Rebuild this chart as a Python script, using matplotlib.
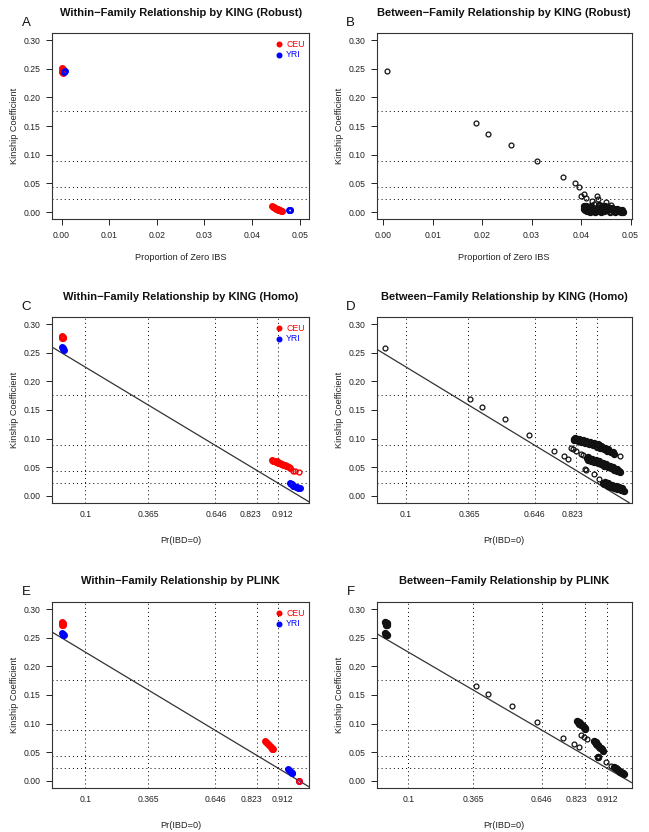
import matplotlib
matplotlib.use("Agg")
import matplotlib.pyplot as plt
import numpy as np

plt.rcParams['font.family'] = ['Liberation Sans', 'DejaVu Sans']

W, H = 649, 832

# kinship cut-offs between relationship degrees
kin_cuts = [0.177, 0.0884, 0.0442, 0.0221]
kin_ticks = [0.00, 0.05, 0.10, 0.15, 0.20, 0.25, 0.30]
ibs0_ticks = [0.00, 0.01, 0.02, 0.03, 0.04, 0.05]
ibd0_cuts = [0.1, 0.365, 0.646, 0.823, 0.912]
ibd0_labels = ['0.1', '0.365', '0.646', '0.823', '0.912']

# --- A: within-family, KING robust (x = proportion of zero IBS) ---
a_ceu = np.array([
    (0.0001, 0.251), (0.0003, 0.248), (0.0002, 0.245), (0.0004, 0.250),
    (0.0005, 0.246), (0.0003, 0.243), (0.0001, 0.247),
    (0.0441, 0.011), (0.0443, 0.009), (0.0446, 0.009), (0.0447, 0.007),
    (0.0450, 0.006), (0.0452, 0.005), (0.0454, 0.004), (0.0456, 0.003),
    (0.0458, 0.003), (0.0460, 0.002), (0.0462, 0.002), (0.0449, 0.008),
    (0.0455, 0.005)])
a_yri = np.array([
    (0.0007, 0.246), (0.0006, 0.244), (0.0479, 0.003), (0.0480, 0.004),
    (0.0478, 0.003)])

# --- B: between-family, KING robust ---
b_pairs = np.array([
    (0.0007, 0.2457), (0.0187, 0.1558), (0.0211, 0.1366), (0.0259, 0.1167),
    (0.0311, 0.0899), (0.0364, 0.0607), (0.0387, 0.0514), (0.0395, 0.0438),
    (0.0400, 0.0280), (0.0407, 0.0310), (0.0411, 0.0245), (0.0433, 0.0280),
    (0.0435, 0.0233), (0.0423, 0.0190), (0.0427, 0.0150), (0.0450, 0.0180),
    (0.0461, 0.0117)])
b_dense = np.array([
    (0.0406, 0.010), (0.0406, 0.006), (0.0408, 0.003), (0.0410, 0.011),
    (0.0411, 0.007), (0.0412, 0.002), (0.0415, 0.009), (0.0416, 0.005),
    (0.0418, 0.001), (0.0420, 0.010), (0.0421, 0.006), (0.0423, 0.002),
    (0.0425, 0.008), (0.0427, 0.004), (0.0429, 0.001), (0.0431, 0.006),
    (0.0433, 0.002),
    (0.0436, 0.012), (0.0437, 0.008), (0.0438, 0.004), (0.0440, 0.001),
    (0.0442, 0.010), (0.0444, 0.006), (0.0446, 0.002), (0.0448, 0.011),
    (0.0450, 0.007), (0.0452, 0.003), (0.0455, 0.009), (0.0457, 0.005),
    (0.0459, 0.001), (0.0462, 0.007), (0.0464, 0.003), (0.0467, 0.005),
    (0.0469, 0.001), (0.0472, 0.005), (0.0474, 0.002), (0.0477, 0.004),
    (0.0480, 0.001), (0.0483, 0.003), (0.0485, 0.001)])

# --- C: within-family, KING homo (x = Pr(IBD=0)) ---
c_ceu = np.array([
    (0.000, 0.279), (0.004, 0.277), (0.007, 0.275), (0.002, 0.276),
    (0.008, 0.278),
    (0.886, 0.062), (0.890, 0.060), (0.896, 0.061), (0.901, 0.059),
    (0.907, 0.060), (0.912, 0.058), (0.918, 0.058), (0.923, 0.056),
    (0.929, 0.056), (0.934, 0.054), (0.940, 0.054), (0.945, 0.052),
    (0.951, 0.052), (0.956, 0.050), (0.962, 0.049)])
c_ceu_tail = np.array([(0.976, 0.044), (0.983, 0.044), (1.001, 0.0425)])
c_yri = np.array([
    (0.004, 0.260), (0.008, 0.258), (0.010, 0.255), (0.006, 0.257),
    (0.962, 0.022), (0.966, 0.020), (0.971, 0.020), (0.975, 0.018),
    (0.980, 0.018), (0.985, 0.016), (0.990, 0.016), (0.995, 0.014),
    (1.000, 0.014), (1.004, 0.013)])

# --- D: between-family, KING homo ---
d_pairs = np.array([
    (0.011, 0.259), (0.370, 0.170), (0.422, 0.156), (0.519, 0.134),
    (0.621, 0.107), (0.727, 0.079), (0.770, 0.0695), (0.789, 0.0636),
    (0.801, 0.0835), (0.810, 0.081), (0.820, 0.079), (0.844, 0.0735),
    (0.853, 0.0706), (0.862, 0.0473), (0.864, 0.0455), (0.898, 0.0373),
    (0.919, 0.0298), (1.008, 0.0688)])
d_dense = np.array([
    (0.812, 0.100), (0.815, 0.097), (0.825, 0.099), (0.830, 0.096),
    (0.840, 0.098), (0.845, 0.094), (0.855, 0.096), (0.862, 0.092),
    (0.870, 0.094), (0.878, 0.090), (0.887, 0.092), (0.895, 0.088),
    (0.903, 0.090), (0.910, 0.086), (0.918, 0.088), (0.925, 0.084),
    (0.932, 0.085), (0.940, 0.081), (0.948, 0.082), (0.955, 0.078),
    (0.962, 0.079), (0.970, 0.076), (0.978, 0.076), (0.985, 0.073),
    (0.818, 0.101), (0.835, 0.100), (0.850, 0.098), (0.866, 0.096),
    (0.882, 0.094), (0.898, 0.092), (0.914, 0.090), (0.930, 0.087),
    (0.946, 0.084), (0.960, 0.081),
    (0.868, 0.066), (0.872, 0.063), (0.880, 0.064), (0.886, 0.061),
    (0.893, 0.062), (0.900, 0.059), (0.907, 0.060), (0.914, 0.057),
    (0.921, 0.058), (0.928, 0.055), (0.935, 0.056), (0.942, 0.053),
    (0.949, 0.053), (0.956, 0.050), (0.963, 0.051), (0.970, 0.048),
    (0.977, 0.048), (0.984, 0.046), (0.991, 0.046), (0.998, 0.043),
    (1.005, 0.044), (1.011, 0.042),
    (0.875, 0.067), (0.890, 0.065), (0.905, 0.063), (0.920, 0.060),
    (0.935, 0.058), (0.950, 0.056), (0.965, 0.053), (0.980, 0.050),
    (0.995, 0.047),
    (0.938, 0.023), (0.942, 0.020), (0.950, 0.021), (0.956, 0.018),
    (0.963, 0.019), (0.970, 0.016), (0.977, 0.017), (0.984, 0.014),
    (0.991, 0.015), (0.998, 0.012), (1.005, 0.013), (1.012, 0.010),
    (1.019, 0.011), (1.026, 0.009),
    (0.945, 0.024), (0.960, 0.022), (0.975, 0.019), (0.990, 0.017),
    (1.005, 0.015), (1.018, 0.013)])

# --- E: within-family, PLINK ---
e_ceu = np.array([
    (0.000, 0.277), (0.004, 0.275), (0.006, 0.273), (0.002, 0.272),
    (0.007, 0.276),
    (0.858, 0.070), (0.861, 0.068), (0.865, 0.066), (0.868, 0.065),
    (0.872, 0.063), (0.876, 0.061), (0.880, 0.059), (0.884, 0.057),
    (0.888, 0.056), (0.891, 0.055), (1.000, 0.000)])
e_yri = np.array([
    (0.004, 0.258), (0.008, 0.256), (0.010, 0.254), (0.006, 0.255),
    (0.955, 0.021), (0.958, 0.019), (0.962, 0.017), (0.966, 0.016),
    (0.970, 0.014), (0.972, 0.013), (1.000, 0.000)])

# --- F: between-family, PLINK ---
f_pairs = np.array([
    (0.376, 0.166), (0.426, 0.1526), (0.523, 0.130), (0.627, 0.102),
    (0.733, 0.0754), (0.779, 0.0649), (0.796, 0.059), (0.806, 0.0795),
    (0.819, 0.0765), (0.830, 0.0725), (0.908, 0.0326), (0.928, 0.0251)])
f_dense = np.array([
    (0.005, 0.277), (0.010, 0.275), (0.012, 0.273), (0.008, 0.272),
    (0.014, 0.276), (0.006, 0.258), (0.011, 0.256), (0.013, 0.254),
    (0.008, 0.255), (0.874, 0.0414), (0.876, 0.0425),
    (0.788, 0.104), (0.792, 0.102), (0.796, 0.103), (0.799, 0.100),
    (0.803, 0.101), (0.806, 0.098), (0.810, 0.097), (0.813, 0.095),
    (0.817, 0.094), (0.820, 0.092), (0.823, 0.091),
    (0.858, 0.069), (0.862, 0.067), (0.866, 0.068), (0.869, 0.065),
    (0.873, 0.063), (0.877, 0.062), (0.880, 0.060), (0.884, 0.058),
    (0.888, 0.057), (0.892, 0.055), (0.895, 0.053),
    (0.942, 0.024), (0.946, 0.022), (0.950, 0.023), (0.953, 0.020),
    (0.957, 0.019), (0.961, 0.018), (0.965, 0.016), (0.969, 0.015),
    (0.973, 0.014), (0.977, 0.013), (0.981, 0.012)])

RED, BLUE, INK = '#ff0000', '#0000ff', '#111111'
PX = 0.72  # points per pixel at dpi 100

fig = plt.figure(figsize=(W / 100, H / 100), dpi=100)


def panel(box, xlim, title, letter, xlabel):
    l, t, r, b = box
    ax = fig.add_axes([l / W, 1 - b / H, (r - l) / W, (b - t) / H])
    ax.set_xlim(*xlim)
    ax.set_ylim(-0.012, 0.312)
    ax.set_yticks(kin_ticks)
    ax.set_yticklabels([f'{v:.2f}' for v in kin_ticks])
    ax.tick_params(direction='out', length=4.3, width=0.7, labelsize=6.2,
                   pad=4, colors='#222222')
    for s in ax.spines.values():
        s.set_linewidth(0.8)
        s.set_color('#333333')
    for c in kin_cuts:
        ax.axhline(c, color='black', lw=0.7, ls=(0, (1, 3.2)))
    ax.annotate(title, xy=(0.5, 1), xycoords='axes fraction',
                xytext=(0, 20.8 * PX), textcoords='offset points',
                ha='center', va='center', fontsize=8, fontweight='bold',
                color='#111111')
    ax.annotate(letter, xy=(0, 1), xycoords='axes fraction',
                xytext=(-26 * PX, 10 * PX), textcoords='offset points',
                ha='center', va='center', fontsize=9.5, color='#111111')
    ax.annotate('Kinship Coefficient', xy=(0, 0.5), xycoords='axes fraction',
                xytext=(-37 * PX, 0), textcoords='offset points',
                ha='center', va='center', rotation=90, fontsize=6.6,
                color='#222222')
    ax.annotate(xlabel, xy=(0.5, 0), xycoords='axes fraction',
                xytext=(0, -38 * PX), textcoords='offset points',
                ha='center', va='center', fontsize=6.6, color='#222222')
    return ax


def ibd0_axis(ax, label_at, labels):
    # labels sit a little off the dotted guides, and there are no tick marks
    ax.set_xticks(label_at)
    ax.set_xticklabels(labels)
    ax.tick_params(axis='x', length=0, pad=5.4)
    for v in ibd0_cuts:
        ax.axvline(v, color='black', lw=0.7, ls=(0, (1, 3.2)))
    ax.axline((0, 0.25), slope=-0.25, color='#333333', lw=0.9)


def ibs0_axis(ax):
    ax.set_xticks(ibs0_ticks)
    ax.set_xticklabels([f'{v:.2f}' for v in ibs0_ticks])


def circles(ax, pts, color, ms=3.5, mew=0.9):
    ax.plot(pts[:, 0], pts[:, 1], 'o', ls='none', mfc='none', mec=color,
            ms=ms, mew=mew)


def pop_legend(ax):
    for i, (lab, col) in enumerate([('CEU', RED), ('YRI', BLUE)]):
        y = 1 - (11 + 10.5 * i) / ax.bbox.height
        ax.plot([1 - 30 / ax.bbox.width], [y], 'o', color=col, ms=3.3,
                transform=ax.transAxes, clip_on=False)
        ax.text(1 - 23 / ax.bbox.width, y, lab, color=col, fontsize=6.3,
                ha='left', va='center', transform=ax.transAxes)


left_col = (52, 309.3)
right_col = (376.7, 631.5)
rows = [(33.3, 219), (317.3, 502.7), (602.3, 787.7)]

# A
ax = panel((left_col[0], rows[0][0], left_col[1], rows[0][1]), (-0.002, 0.052),
           'Within\u2212Family Relationship by KING (Robust)', 'A',
           'Proportion of Zero IBS')
ibs0_axis(ax)
circles(ax, a_ceu, RED, mew=1.5)
circles(ax, a_yri, BLUE, mew=1.5)
pop_legend(ax)

# B
ax = panel((right_col[0], rows[0][0], right_col[1], rows[0][1]), (-0.0013, 0.0502),
           'Between\u2212Family Relationship by KING (Robust)', 'B',
           'Proportion of Zero IBS')
ibs0_axis(ax)
circles(ax, b_pairs, INK)
circles(ax, b_dense, INK, mew=1.8)

# C
ax = panel((left_col[0], rows[1][0], left_col[1], rows[1][1]), (-0.04, 1.043),
           'Within\u2212Family Relationship by KING (Homo)', 'C', 'Pr(IBD=0)')
ibd0_axis(ax, [0.1, 0.365, 0.653, 0.796, 0.931], ibd0_labels)
circles(ax, c_ceu, RED, mew=1.5)
circles(ax, c_ceu_tail, RED, mew=1.0)
circles(ax, c_yri, BLUE, mew=1.5)
pop_legend(ax)

# D
ax = panel((right_col[0], rows[1][0], right_col[1], rows[1][1]), (-0.025, 1.058),
           'Between\u2212Family Relationship by KING (Homo)', 'D', 'Pr(IBD=0)')
ibd0_axis(ax, [0.1, 0.37, 0.646, 0.809], ibd0_labels[:4])
circles(ax, d_pairs, INK)
circles(ax, d_dense, INK, mew=1.8)

# E
ax = panel((left_col[0], rows[2][0], left_col[1], rows[2][1]), (-0.04, 1.043),
           'Within\u2212Family Relationship by PLINK', 'E', 'Pr(IBD=0)')
ibd0_axis(ax, [0.1, 0.365, 0.650, 0.800, 0.931], ibd0_labels)
circles(ax, e_yri, BLUE, mew=1.5)
circles(ax, e_ceu, RED, mew=1.5)
pop_legend(ax)

# F
ax = panel((right_col[0], rows[2][0], right_col[1], rows[2][1]), (-0.029, 1.012),
           'Between\u2212Family Relationship by PLINK', 'F', 'Pr(IBD=0)')
ibd0_axis(ax, [0.1, 0.365, 0.646, 0.786, 0.912], ibd0_labels)
circles(ax, f_pairs, INK)
circles(ax, f_dense, INK, mew=1.8)

fig.savefig('out.png', dpi=100)
